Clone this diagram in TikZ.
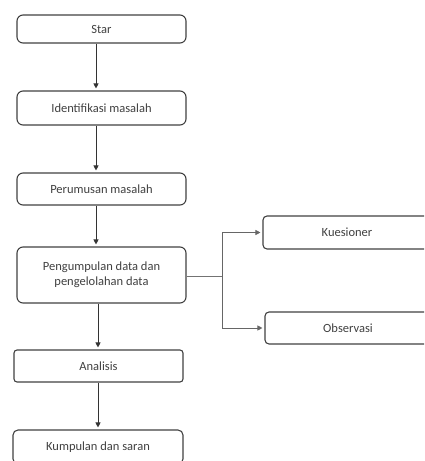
\documentclass[tikz,border=0pt]{standalone}
\usepackage{fontspec}
\setmainfont{Carlito}
\usetikzlibrary{arrows.meta}
\begin{document}
\begin{tikzpicture}[x=1pt,y=-1pt,
  box/.style={draw=black!75,line width=1.1pt,rounded corners=#1,inner sep=0pt,text=black!75,font=\fontsize{12.5}{15}\selectfont,align=center},
  box/.default=6pt,
  arr/.style={draw=black!80,line width=0.7pt,-{Triangle[width=5pt,length=5pt]},shorten >=2pt},
  link/.style={draw=black!55,line width=1pt}]
\useasboundingbox (0,0) rectangle (424,461);
\begin{scope}
\clip (0,0) rectangle (424,461);
\node[box, minimum width=169pt, minimum height=28pt] (s) at (101.5,29) {Star};
\node[box, minimum width=169pt, minimum height=34pt] (i) at (101.5,108) {Identifikasi masalah};
\node[box, minimum width=169pt, minimum height=32pt] (p) at (101.5,189) {Perumusan masalah};
\node[box, minimum width=169pt, minimum height=56pt] (k) at (101.5,275) {Pengumpulan data dan\\pengelolahan data};
\node[box=3pt, minimum width=169pt, minimum height=32pt] (a) at (98.5,366) {Analisis};
\node[box=5pt, minimum width=170pt, minimum height=34pt, text height=9pt] (z) at (98,447) {Kumpulan dan saran};
\node[box=4pt, minimum width=168pt, minimum height=33pt] (q) at (347,232.5) {Kuesioner};
\node[box=4pt, minimum width=166pt, minimum height=32pt] (o) at (348,328) {Observasi};
\coordinate (ax) at (96,0);
\coordinate (bx) at (98,0);
\coordinate (j) at (222,276);
\draw[arr] (s.south -| ax) -- (i.north -| ax);
\draw[arr] (i.south -| ax) -- (p.north -| ax);
\draw[arr] (p.south -| ax) -- (k.north -| ax);
\draw[arr] (k.south -| bx) -- (a.north -| bx);
\draw[arr] (a.south -| bx) -- (z.north -| bx);
\draw[link] (k.east |- j) -- (j);
\draw[arr,draw=black!60] (j) |- (q.west);
\draw[arr,draw=black!60] (j) |- (o.west);
\end{scope}
\end{tikzpicture}
\end{document}
